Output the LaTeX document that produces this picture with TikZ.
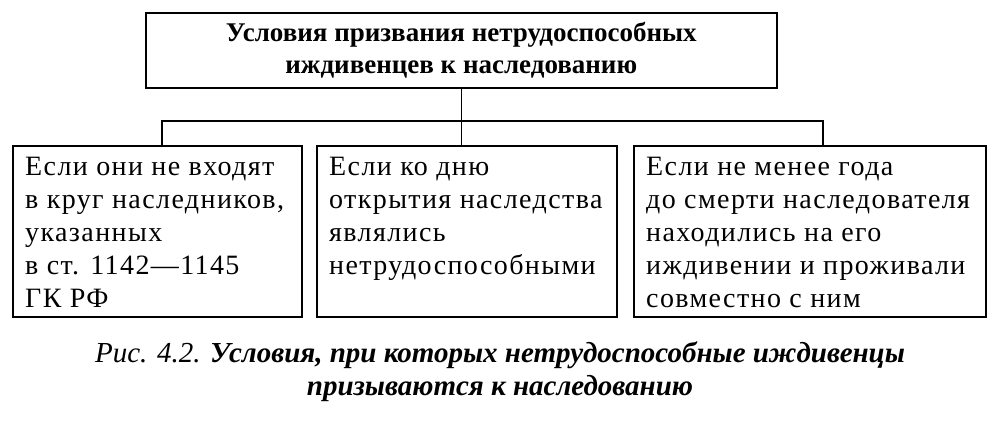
\documentclass[tikz,border=0pt]{standalone}
\usepackage{fontspec}
\setmainfont{Liberation Serif}
\newfontfamily\boxfont[LetterSpace=5]{Liberation Serif}

\begin{document}
\begin{tikzpicture}[x=1pt, y=-1pt,
  frame/.style={draw, line width=1.6pt, inner sep=0pt, anchor=north west},
  body/.style={inner sep=0pt, anchor=north west, align=left, font=\boxfont\fontsize{28}{33}\selectfont},
  link/.style={line width=1.6pt}]
\useasboundingbox (0,0) rectangle (998,424);

\node[frame, minimum width=631pt, minimum height=75pt] (head) at (145,12) {};
\node[font=\bfseries\fontsize{27}{32}\selectfont, align=center, inner sep=0pt] (headtxt) at (head.center) {Условия призвания нетрудоспособных\\иждивенцев к наследованию};

\node[frame, minimum width=289pt, minimum height=171pt] (left) at (12,145) {};
\node[frame, minimum width=300pt, minimum height=171pt] (mid) at (316,145) {};
\node[frame, minimum width=352pt, minimum height=171pt] (right) at (633,145) {};

\node[body] (lefttxt) at (25,157) {Если они не входят\\в круг наследников,\\указанных\\в ст. 1142—1145\\ГК РФ};
\node[body] (midtxt) at (329,157) {Если ко дню\\открытия наследства\\являлись\\нетрудоспособными};
\node[body] (righttxt) at (646,157) {Если не менее года\\до смерти наследователя\\находились на его\\иждивении и проживали\\совместно с ним};

\coordinate (busl) at (162,121);
\coordinate (busr) at (823,121);
\draw[link] (head.south) -- (head.south |- busl);
\draw[link] (head.south |- busl) -- (mid.north -| head.south);
\draw[link] (left.north -| busl) -- (busl) -- (busr) -- (right.north -| busr);

\node[font=\fontsize{29}{33}\selectfont, align=center, inner sep=0pt] (caption) at (500,372) {\textit{Рис. 4.2.} \textbf{\textit{Условия, при которых нетрудоспособные иждивенцы}}\\\textbf{\textit{призываются к наследованию}}};
\end{tikzpicture}
\end{document}
